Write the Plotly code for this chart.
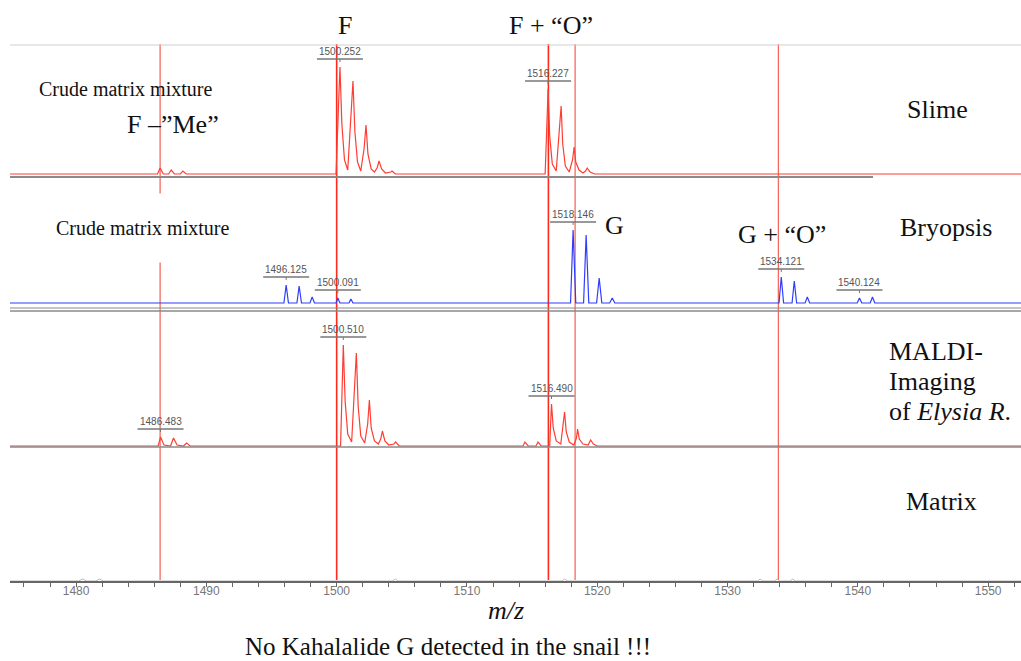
import plotly.graph_objects as go

W, H = 1021, 661

# ---- m/z window ----
MZ_MIN, MZ_MAX = 1474.93, 1552.52

# ---- Slime spectrum (profile points: m/z, intensity a.u.) ----
slime_mz = [MZ_MIN, 1486.25, 1486.45, 1486.7, 1487.1, 1487.3, 1487.55, 1488.0, 1488.2, 1488.45,
            1499.95, 1500.1, 1500.252, 1500.4, 1500.6, 1500.85,
            1501.05, 1501.252, 1501.4, 1501.6, 1501.85,
            1502.1, 1502.252, 1502.4, 1502.65, 1502.9,
            1503.1, 1503.252, 1503.45, 1503.75,
            1504.15, 1504.252, 1504.5,
            1516.0, 1516.12, 1516.227, 1516.35, 1516.55, 1516.85,
            1517.05, 1517.227, 1517.35, 1517.55, 1517.85,
            1518.1, 1518.227, 1518.35, 1518.6, 1518.9,
            1519.1, 1519.227, 1519.45, 1519.8, MZ_MAX]
slime_int = [0, 0, 6, 0, 0, 4, 0, 0, 3, 0,
             0, 60, 107, 50, 14, 4,
             50, 93, 42, 12, 3,
             25, 49, 20, 5, 2,
             6, 13, 5, 1,
             2, 3, 0,
             0, 45, 85, 38, 10, 3,
             35, 68, 30, 8, 2,
             14, 27, 12, 4, 1,
             3, 6, 2, 0, 0]
slime_labels = [1500.252, 1516.227]

# ---- Bryopsis spectrum ----
bry_mz = [MZ_MIN, 1495.95, 1496.125, 1496.3, 1496.95, 1497.12, 1497.3, 1497.95, 1498.12, 1498.3,
          1499.95, 1500.091, 1500.25, 1500.95, 1501.09, 1501.25,
          1517.95, 1518.146, 1518.35, 1518.95, 1519.146, 1519.35, 1519.95, 1520.146, 1520.35,
          1520.95, 1521.15, 1521.35,
          1533.95, 1534.121, 1534.3, 1534.95, 1535.12, 1535.3, 1535.95, 1536.12, 1536.3,
          1539.95, 1540.124, 1540.3, 1540.95, 1541.12, 1541.3, MZ_MAX]
bry_int = [0, 0, 18, 0, 0, 17, 0, 0, 6, 0,
           0, 5, 0, 0, 4, 0,
           0, 73, 0, 0, 68, 0, 0, 25, 0,
           0, 5, 0,
           0, 26, 0, 0, 22, 0, 0, 6, 0,
           0, 5, 0, 0, 6, 0, 0]
bry_labels = [1496.125, 1500.091, 1518.146, 1534.121, 1540.124]

# ---- MALDI imaging spectrum (Elysia) ----
maldi_mz = [MZ_MIN, 1486.3, 1486.483, 1486.75, 1487.25, 1487.48, 1487.75, 1488.25, 1488.48, 1488.75,
            1500.3, 1500.4, 1500.51, 1500.65, 1500.85, 1501.15,
            1501.35, 1501.51, 1501.65, 1501.85, 1502.15,
            1502.38, 1502.51, 1502.65, 1502.9, 1503.2,
            1503.38, 1503.51, 1503.7, 1504.0,
            1504.4, 1504.51, 1504.8,
            1514.3, 1514.45, 1514.7, 1515.3, 1515.45, 1515.7,
            1516.35, 1516.42, 1516.49, 1516.62, 1516.85, 1517.2,
            1517.37, 1517.49, 1517.62, 1517.85, 1518.2,
            1518.4, 1518.49, 1518.62, 1518.9, 1519.3, 1519.49, 1519.7, 1520.0, MZ_MAX]
maldi_int = [0, 0, 9, 1, 0, 8, 1, 0, 3, 0,
             0, 55, 101, 45, 12, 4,
             50, 93, 40, 10, 3,
             22, 46, 18, 5, 2,
             7, 15, 5, 1,
             2, 4, 0,
             0, 4, 0, 0, 4, 0,
             0, 22, 42, 18, 5, 2,
             18, 34, 14, 4, 1,
             8, 17, 7, 2, 1, 6, 2, 0, 0]
maldi_labels = [1486.483, 1500.51, 1516.49]

# ---- Matrix blank ----
matrix_mz = [MZ_MIN, 1480.2, 1480.5, 1480.8, 1481.5, 1481.8, 1482.1, 1504.3, 1504.5, 1504.7,
             1517.3, 1517.5, 1517.7, 1532.3, 1532.5, 1532.7, 1533.6, 1533.8, 1534.0,
             1534.8, 1535.0, 1535.2, MZ_MAX]
matrix_int = [0, 0, 2, 0, 0, 2, 0, 0, 2, 0,
              0, 2, 0, 0, 2, 0, 0, 2, 0,
              0, 2, 0, 0]

# ---- guide lines (m/z) ----
guide_mz = [1486.45, 1500.0, 1516.25, 1518.3, 1533.9]
guide_strong = [False, True, True, False, False]

x_ticks = [1480, 1490, 1500, 1510, 1520, 1530, 1540, 1550]

SERIF = "Liberation Serif, Times New Roman, serif"
SANS = "Liberation Sans, Arial, sans-serif"


def px(x):
    return x / W


def py(y):
    return 1 - y / H


fig = go.Figure()

panels = [
    ("y", slime_mz, slime_int, slime_labels, "#ff3d33", 1.2),
    ("y2", bry_mz, bry_int, bry_labels, "#2f3dff", 1.2),
    ("y3", maldi_mz, maldi_int, maldi_labels, "#ff3d33", 1.2),
    ("y4", matrix_mz, matrix_int, [], "#b8b8b8", 1.0),
]

shapes = []
annotations = []

for yref, mz, inten, labels, color, lw in panels:
    fig.add_trace(go.Scatter(x=mz, y=inten, mode="lines", xaxis="x", yaxis=yref,
                             line=dict(color=color, width=lw), hoverinfo="skip",
                             showlegend=False))
    lookup = dict(zip(mz, inten))
    for m in labels:
        h = lookup[m]
        annotations.append(dict(x=m, y=h, xref="x", yref=yref, text=f"{m:.3f}",
                                showarrow=False, xanchor="center", yanchor="bottom",
                                yshift=8, font=dict(family=SANS, size=10, color="#555555")))
        shapes.append(dict(type="line", xref="x", yref=yref, xsizemode="pixel",
                           ysizemode="pixel", xanchor=m, yanchor=h, x0=-23, x1=23,
                           y0=8, y1=8, line=dict(color="#777777", width=1.5)))
        shapes.append(dict(type="line", xref="x", yref=yref, xsizemode="pixel",
                           ysizemode="pixel", xanchor=m, yanchor=h, x0=0, x1=0,
                           y0=8, y1=5, line=dict(color="#777777", width=1)))

# panel frame lines
shapes += [
    dict(type="line", xref="paper", yref="paper", x0=px(10), x1=1, y0=py(45), y1=py(45),
         line=dict(color="#d0d0d0", width=1)),
    dict(type="line", xref="paper", yref="paper", x0=px(10), x1=px(873), y0=py(177), y1=py(177),
         line=dict(color="#8a8a8a", width=2)),
    dict(type="line", xref="paper", yref="paper", x0=px(10), x1=1, y0=py(308), y1=py(308),
         line=dict(color="#8a8a8a", width=1)),
    dict(type="line", xref="paper", yref="paper", x0=px(10), x1=1, y0=py(311), y1=py(311),
         line=dict(color="#8a8a8a", width=1.5)),
    dict(type="line", xref="paper", yref="paper", x0=px(10), x1=1, y0=py(447), y1=py(447),
         line=dict(color="#8a8a8a", width=1.5)),
]

# vertical guide lines
for m, strong in zip(guide_mz, guide_strong):
    shapes.append(dict(type="line", xref="x", yref="paper", x0=m, x1=m,
                       y0=py(580), y1=py(44), layer="below",
                       line=dict(color="#ff2a1a" if strong else "#f46a5e",
                                 width=1.6 if strong else 1.3)))


def text(x, y, s, size=26, anchor="left", **kw):
    annotations.append(dict(x=px(x), y=py(y), xref="paper", yref="paper", text=s,
                            showarrow=False, xanchor=anchor, yanchor="middle",
                            font=dict(family=SERIF, size=size, color="#111111"), **kw))


text(345, 25, "F", anchor="center")
text(507, 25, "F + \u201cO\u201d")
text(37, 89, "Crude matrix mixture", size=20)
text(125, 125, "F \u2013\u201dMe\u201d")
text(905, 109, "Slime")
text(55, 228, "Crude matrix mixture", size=20, bgcolor="white", height=68, borderpad=0)
text(603, 225, "G")
text(736, 235, "G + \u201cO\u201d")
text(898, 227, "Bryopsis")
text(887, 351, "MALDI-")
text(887, 381, "Imaging")
text(887, 411, "of <i>Elysia R</i>.")
text(904, 501, "Matrix")
text(506, 610, "<i>m/z</i>", anchor="center")
text(448, 646, "No Kahalalide G detected in the snail !!!", size=25, anchor="center")

ydom = {
    "yaxis": ([py(177), py(45)], [-3, 129]),
    "yaxis2": ([py(310), py(177)], [-7, 126]),
    "yaxis3": ([py(447), py(310)], [-1, 136]),
    "yaxis4": ([py(581), py(447)], [0, 134]),
}

layout = dict(
    width=W, height=H,
    margin=dict(l=0, r=0, t=0, b=0),
    paper_bgcolor="white", plot_bgcolor="rgba(0,0,0,0)",
    showlegend=False,
    xaxis=dict(domain=[px(10), 1], range=[MZ_MIN, MZ_MAX], anchor="y4",
               tickvals=x_ticks, ticktext=[str(t) for t in x_ticks],
               ticks="outside", ticklen=4, tickcolor="#666666", tickwidth=1,
               ticklabelstandoff=-6,
               minor=dict(dtick=2, tick0=1476, ticks="outside", ticklen=4,
                          tickcolor="#666666", showgrid=False),
               showline=True, linecolor="#666666", linewidth=1.5,
               showgrid=False, zeroline=False,
               tickfont=dict(family=SANS, size=12, color="#777777")),
    shapes=shapes,
    annotations=annotations,
)
for name, (dom, rng) in ydom.items():
    layout[name] = dict(domain=dom, range=rng, visible=False, fixedrange=True,
                        anchor="x")

fig.update_layout(**layout)
fig.write_html("out.html")
